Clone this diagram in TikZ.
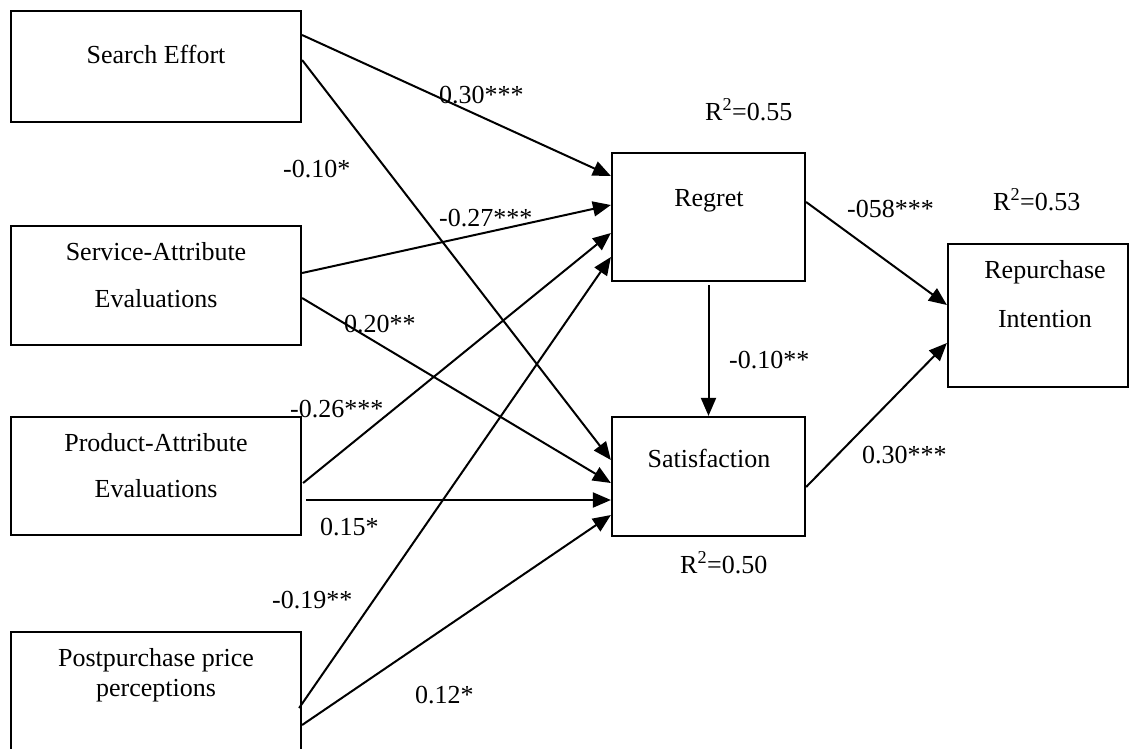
\documentclass[tikz,border=0pt]{standalone}
\usepackage{fontspec}
\setmainfont{Liberation Serif}
\usetikzlibrary{arrows.meta}
\begin{document}
\begin{tikzpicture}[x=1pt,y=-1pt,
  box/.style={draw, line width=2.2pt, inner sep=0pt},
  txt/.style={inner sep=0pt, anchor=base, font=\fontsize{26}{30}\selectfont},
  lbl/.style={inner sep=0pt, anchor=base west, font=\fontsize{26}{30}\selectfont},
  arr/.style={line width=2pt, -{Triangle[length=18pt,width=15pt]}}]
\clip (0,0) rectangle (1130,748);
\fill[white] (0,0) rectangle (1130,748);
% boxes
\node[box, minimum width=290pt, minimum height=111pt] (se) at (156,66.5) {};
\node[box, minimum width=290pt, minimum height=119pt] (sa) at (156,285.5) {};
\node[box, minimum width=290pt, minimum height=118pt] (pa) at (156,476) {};
\node[box, minimum width=290pt, minimum height=128pt] (pp) at (156,696) {};
\node[box, minimum width=193pt, minimum height=128pt] (reg) at (708.5,217) {};
\node[box, minimum width=193pt, minimum height=119pt] (sat) at (708.5,476.5) {};
\node[box, minimum width=180pt, minimum height=143pt] (rep) at (1038,315.5) {};
% box texts
\node[txt] (tse) at (156,63) {Search Effort};
\node[txt] (tsa1) at (156,260) {Service-Attribute};
\node[txt] (tsa2) at (156,307) {Evaluations};
\node[txt] (tpa1) at (156,451) {Product-Attribute};
\node[txt] (tpa2) at (156,497) {Evaluations};
\node[txt] (tpp1) at (156,666) {Postpurchase price};
\node[txt] (tpp2) at (156,696) {perceptions};
\node[txt] (treg) at (709,206) {Regret};
\node[txt] (tsat) at (709,467) {Satisfaction};
\node[txt] (trep1) at (1045,278) {Repurchase};
\node[txt] (trep2) at (1045,327) {Intention};
% connectors
\draw[arr] (se.east |- 0,35) -- (reg.west |- 0,176);
\draw[arr] (se.east |- 0,60) -- (sat.west |- 0,460);
\draw[arr] (sa.east |- 0,273) -- (reg.west |- 0,205);
\draw[arr] (sa.east |- 0,298) -- (sat.west |- 0,483);
\draw[arr] ([xshift=1pt]pa.east |- 0,483) -- (reg.west |- 0,233);
\draw[arr] ([xshift=4pt]pa.east |- 0,500) -- (sat.west |- 0,500);
\draw[arr] ([xshift=-3pt]pp.east |- 0,708) -- (reg.west |- 0,257);
\draw[arr] (pp.east |- 0,725) -- (sat.west |- 0,515);
\draw[arr] ([yshift=-3pt]reg.south) -- (sat.north);
\draw[arr] (reg.east |- 0,202) -- (rep.west |- 0,305);
\draw[arr] (sat.east |- 0,487) -- (rep.west |- 0,343);
% labels
\node[lbl] (l1) at (439,103) {0.30***};
\node[lbl] (l2) at (283,177) {-0.10*};
\node[lbl] (l3) at (439,226) {-0.27***};
\node[lbl] (l4) at (344,332) {0.20**};
\node[lbl] (l5) at (290,417) {-0.26***};
\node[lbl] (l6) at (320,535) {0.15*};
\node[lbl] (l7) at (272,608) {-0.19**};
\node[lbl] (l8) at (415,703) {0.12*};
\node[lbl] (r1) at (705,120) {R\textsuperscript{2}=0.55};
\node[lbl] (r2) at (993,210) {R\textsuperscript{2}=0.53};
\node[lbl] (r3) at (680,573) {R\textsuperscript{2}=0.50};
\node[lbl] (l9) at (847,217) {-058***};
\node[lbl] (l10) at (729,368) {-0.10**};
\node[lbl] (l11) at (862,463) {0.30***};
\end{tikzpicture}
\end{document}
